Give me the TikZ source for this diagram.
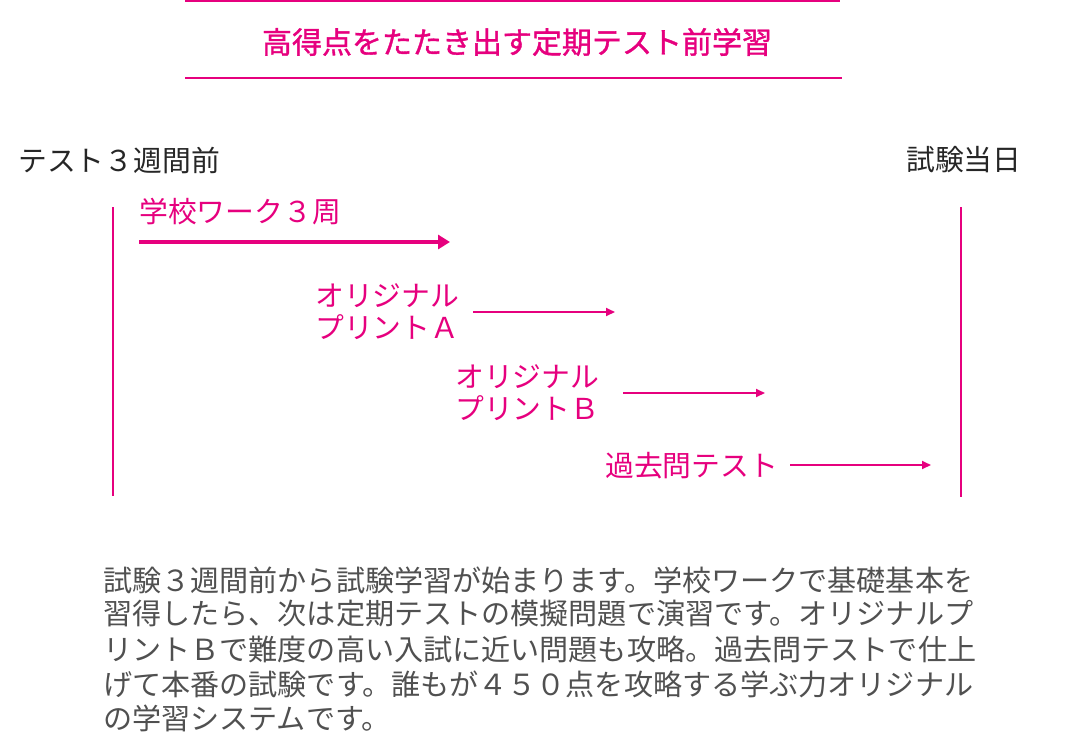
\documentclass[tikz,border=0pt]{standalone}
\usepackage{fontspec}
\newfontfamily\jp{Noto Sans CJK JP}
\newfontfamily\jpb[FakeBold=1.2]{Noto Sans CJK JP}
\usetikzlibrary{arrows.meta}
\definecolor{pink}{HTML}{E6007E}
\definecolor{para}{HTML}{505050}
\tikzset{
  x=1pt,y=-1pt,
  jtxt/.style={font=\jp\fontsize{28.8}{33}\selectfont, inner sep=0pt},
  lbl/.style={jtxt, text=pink, anchor=west},
  tl/.style={jtxt, text=black!85, anchor=west},
  ptxt/.style={font=\jp\fontsize{29.1}{34}\selectfont, inner sep=0pt, text=para, anchor=west},
  rule/.style={draw=pink, line width=2pt},
  vline/.style={draw=pink, line width=2pt},
  thickarr/.style={draw=pink, line width=4pt, -{Triangle[length=12pt,width=14pt]}},
  thinarr/.style={draw=pink, line width=1.8pt, -{Triangle[length=9pt,width=8pt]}},
}
\begin{document}
\begin{tikzpicture}
\useasboundingbox (0,0) rectangle (1070,753);
% title
\coordinate (t1a) at (185,1); \coordinate (t1b) at (840,1);
\coordinate (t2a) at (185,78); \coordinate (t2b) at (842,78);
\draw[rule] (t1a) -- (t1b);
\draw[rule] (t2a) -- (t2b);
\node[font=\jpb\fontsize{30}{33}\selectfont, text=pink, inner sep=0pt] (title) at (517,42) {高得点をたたき出す定期テスト前学習};
% header labels
\node[tl] (start) at (18,160) {テスト３週間前};
\node[tl] (end) at (906,160) {試験当日};
% vertical lines
\coordinate (la) at (113,207); \coordinate (lb) at (113,496);
\coordinate (ra) at (961,207); \coordinate (rb) at (961,497);
\draw[vline] (la) -- (lb);
\draw[vline] (ra) -- (rb);
% steps
\node[lbl] (s1) at (139,212) {学校ワーク３周};
\coordinate (a1s) at (139,242); \coordinate (a1e) at (450,242);
\draw[thickarr] (a1s) -- (a1e);

\node[lbl, align=left] (s2) at (315,312) {オリジナル\\[-1pt]プリントＡ};
\coordinate (a2s) at (473,312); \coordinate (a2e) at (615,312);
\draw[thinarr] (a2s) -- (a2e);

\node[lbl, align=left] (s3) at (455,393) {オリジナル\\[-1pt]プリントＢ};
\coordinate (a3s) at (623,393); \coordinate (a3e) at (765,393);
\draw[thinarr] (a3s) -- (a3e);

\node[lbl] (s4) at (605,466) {過去問テスト};
\coordinate (a4s) at (790,465); \coordinate (a4e) at (931,465);
\draw[thinarr] (a4s) -- (a4e);
% paragraph
\node[ptxt] (p1) at (103,580) {試験３週間前から試験学習が始まります。学校ワークで基礎基本を};
\node[ptxt] (p2) at (103,614) {習得したら、次は定期テストの模擬問題で演習です。オリジナルプ};
\node[ptxt] (p3) at (103,649) {リントＢで難度の高い入試に近い問題も攻略。過去問テストで仕上};
\node[ptxt] (p4) at (103,684) {げて本番の試験です。誰もが４５０点を攻略する学ぶ力オリジナル};
\node[ptxt] (p5) at (103,718) {の学習システムです。};
\end{tikzpicture}
\end{document}
